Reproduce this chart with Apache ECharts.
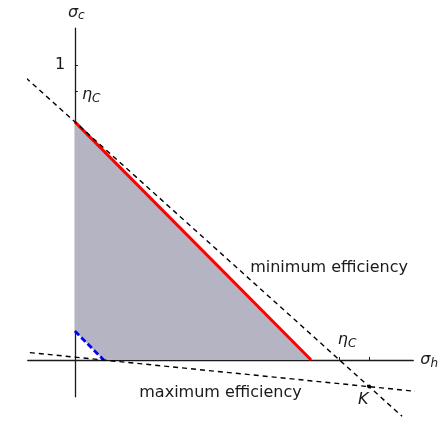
<!DOCTYPE html>
<html lang="en">
<head>
    <meta charset="UTF-8">
    <title>efficiency region</title>
    <script src="https://cdn.jsdelivr.net/npm/echarts@6/dist/echarts.min.js"></script>
    <style>
        html, body { margin: 0; padding: 0; background: #fff; }
        #chartBox { width: 441px; height: 422px; }
    </style>
</head>
<body>
    <div id="chartBox"></div>
    <script>
        // shaded region (sigma_h, sigma_c)
        var fillPts = [[0, 0.807], [0.803, 0], [0.098, 0], [0, 0.098]];
        // red boundary
        var redPts = [[0, 0.807], [0.803, 0]];
        // blue dashed boundary
        var bluePts = [[0, 0.098], [0.098, 0]];
        // minimum efficiency line
        var minPts = [[-0.166, 0.956], [1.112, -0.191]];
        // maximum efficiency line
        var maxPts = [[-0.214, 0.031], [1.186, -0.109]];
        // point K
        var kPt = [[1.0, -0.0897]];
        // tick positions
        var xTicks = [0.9, 1.0];
        var yTicks = [0.91, 1];
        // annotations: x, y, key
        var notes = [
            [0.864, 0.312, 'min'],
            [0.495, -0.112, 'max'],
            [0.98, -0.136, 'K'],
            [0.925, 0.068, 'etaX'],
            [0.024, 0.898, 'etaY'],
            [-0.05, 1, 'one']
        ];

        var ink = '#1a1a1a';
        var chart = echarts.init(document.getElementById('chartBox'), null, { renderer: 'canvas' });

        var mathRich = {
            g: { fontFamily: 'DejaVu Sans', fontStyle: 'italic', fontSize: 16, color: ink },
            s: { fontFamily: 'DejaVu Sans', fontStyle: 'italic', fontSize: 12, color: ink, padding: [7, 0, 0, 0] },
            t: { fontFamily: 'DejaVu Sans', fontSize: 16, color: ink },
            n: { fontFamily: 'DejaVu Sans', fontSize: 16, color: ink }
        };

        function noteText(key) {
            if (key === 'min') return '{t|minimum efficiency}';
            if (key === 'max') return '{t|maximum efficiency}';
            if (key === 'K') return '{g|K}';
            if (key === 'one') return '{n|1}';
            return '{g|η}{s|C}';
        }

        var option = {
            animation: false,
            grid: { left: 27.8, top: 28.1, width: 386.45, height: 368.75, containLabel: false },
            xAxis: {
                type: 'value',
                min: -0.16,
                max: 1.15,
                splitLine: { show: false },
                axisLine: { show: true, onZero: true, lineStyle: { color: ink, width: 1.3 } },
                axisTick: { show: true, inside: true, length: 3, customValues: xTicks, lineStyle: { color: ink } },
                axisLabel: { show: false },
                name: '{g|σ}{s|h}',
                nameLocation: 'end',
                nameGap: 7,
                nameTextStyle: { rich: mathRich }
            },
            yAxis: {
                type: 'value',
                min: -0.125,
                max: 1.125,
                splitLine: { show: false },
                axisLine: { show: true, onZero: true, lineStyle: { color: ink, width: 1.3 } },
                axisTick: { show: true, inside: true, length: 3, customValues: yTicks, lineStyle: { color: ink } },
                axisLabel: { show: false },
                name: '{g|σ}{s|c}',
                nameLocation: 'end',
                nameGap: 6,
                nameTextStyle: { rich: mathRich, align: 'left', padding: [0, 0, 0, -7] }
            },
            series: [
                {
                    type: 'custom',
                    data: fillPts,
                    z: 1,
                    renderItem: function (params, api) {
                        if (params.dataIndex !== 0) return;
                        var pts = fillPts.map(function (p) { return api.coord(p); });
                        return {
                            type: 'polygon',
                            shape: { points: pts },
                            style: { fill: '#b4b4c3' }
                        };
                    }
                },
                {
                    type: 'line', data: redPts, symbol: 'none', z: 3,
                    lineStyle: { color: '#ff0000', width: 3 }
                },
                {
                    type: 'line', data: bluePts, symbol: 'none', z: 3,
                    lineStyle: { color: '#0000ff', width: 2.8, type: [6, 3] }
                },
                {
                    type: 'line', data: minPts, symbol: 'none', z: 4, clip: false,
                    lineStyle: { color: '#000', width: 1.4, type: [5, 4] }
                },
                {
                    type: 'line', data: maxPts, symbol: 'none', z: 4, clip: false,
                    lineStyle: { color: '#000', width: 1.4, type: [5, 4] }
                },
                {
                    type: 'scatter', data: kPt, symbolSize: 4, z: 5, clip: false,
                    itemStyle: { color: '#000', opacity: 1 }
                },
                {
                    type: 'scatter', symbolSize: 0, z: 6, clip: false,
                    itemStyle: { opacity: 1 },
                    data: notes.map(function (n) {
                        return {
                            value: [n[0], n[1]],
                            label: {
                                show: true,
                                position: 'inside',
                                color: ink,
                                textBorderWidth: 0,
                                align: n[2] === 'etaY' ? 'left' : 'center',
                                verticalAlign: 'middle',
                                formatter: noteText(n[2]),
                                rich: mathRich
                            }
                        };
                    })
                }
            ]
        };
        chart.setOption(option);
    </script>
</body>
</html>
